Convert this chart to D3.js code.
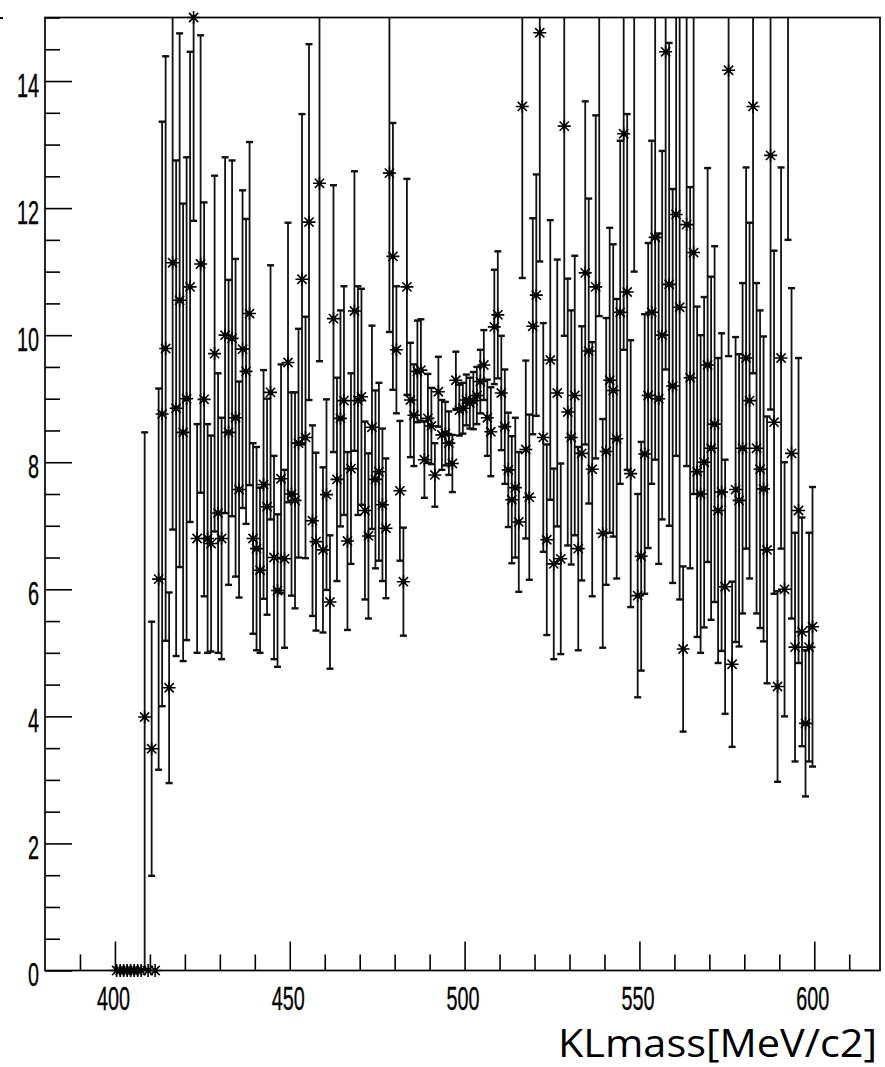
<!DOCTYPE html>
<html>
<head>
<meta charset="utf-8">
<script src="https://cdn.jsdelivr.net/npm/d3@7"></script>
<style>
  html, body { margin: 0; padding: 0; background: #fff; }
  svg { display: block; }
</style>
</head>
<body>
<script>
// Histogram binning: 200 bins of 1 MeV between 400 and 600 MeV
const binCenters = d3.range(200).map(i => 400.5 + i);

// Bin contents
const counts = [
  0, 0, 0, 0, 0, 0, 0, 0, 3.99, 0,
  3.49, 0, 6.16, 8.76, 9.79, 4.45, 11.14, 8.85, 10.55, 8.47,
  9.0, 10.76, 15.0, 6.8, 11.12, 8.99, 6.8, 6.72, 9.71, 7.2,
  6.8, 10.0, 8.47, 9.95, 8.7, 7.57, 9.78, 9.43, 10.34, 6.8,
  6.64, 6.3, 7.65, 7.3, 9.1, 6.5, 5.98, 7.74, 6.48, 9.57,
  7.5, 7.4, 8.3, 10.88, 8.39, 11.78, 7.08, 6.75, 12.39, 6.62,
  7.49, 5.8, 10.26, 7.73, 8.69, 8.97, 6.76, 7.9, 10.38, 8.97,
  9.03, 7.24, 6.84, 8.55, 7.73, 7.85, 7.33, 6.96, 12.55, 11.24,
  9.77, 7.55, 6.12, 10.76, 8.98, 8.74, 9.43, 9.45, 8.04, 8.69,
  8.57, 7.80, 9.11, 8.43, 8.45, 8.30, 7.98, 9.29, 8.82, 8.85,
  8.98, 8.93, 8.97, 9.05, 9.27, 9.53, 8.7, 8.48, 10.13, 10.32,
  9.09, 8.56, 7.88, 7.41, 7.6, 7.06, 13.6, 8.2, 7.45, 10.14,
  10.63, 14.76, 8.39, 6.78, 9.61, 6.4, 9.09, 6.48, 13.29, 8.79,
  8.39, 9.05, 6.64, 8.14, 10.98, 9.75, 7.89, 10.76, 15.8, 6.88,
  8.17, 9.29, 9.13, 8.37, 10.36, 13.17, 10.68, 7.82, 15.5, 5.9,
  6.52, 8.13, 9.05, 10.36, 11.54, 9.0, 10.0, 14.46, 10.8, 9.2,
  11.9, 10.44, 5.06, 11.74, 9.33, 11.3, 7.85, 7.5, 8.0, 9.53,
  8.22, 8.6, 7.24, 7.53, 6.04, 14.17, 4.82, 7.57, 7.4, 8.22,
  9.64, 8.97, 13.6, 8.22, 7.89, 7.58, 6.62, 12.83, 8.63, 4.47,
  9.64, 6.0, 16.0, 8.14, 5.09, 7.24, 5.33, 3.89, 5.09, 5.41
];

// Bin errors
const errors = [
  0, 0, 0, 0, 0, 0, 0, 0, 4.48, 0,
  2.0, 0, 3.0, 4.6, 4.6, 1.5, 4.2, 3.9, 4.2, 3.6,
  3.8, 3.7, 3.2, 1.8, 3.6, 3.1, 1.8, 1.7, 2.8, 2.2,
  1.9, 2.8, 2.4, 2.8, 2.5, 1.7, 2.5, 2.4, 2.7, 1.5,
  1.6, 1.3, 1.8, 1.7, 2.0, 1.6, 1.2, 1.8, 1.4, 2.2,
  1.6, 1.7, 1.8, 2.6, 1.9, 2.8, 1.5, 1.4, 2.8, 1.3,
  1.5, 1.05, 2.1, 1.6, 1.7, 1.8, 1.4, 1.5, 2.2, 1.8,
  1.7, 1.4, 1.3, 1.6, 1.4, 1.4, 1.2, 1.1, 2.5, 2.1,
  1.0, 1.1, 0.85, 1.7, 0.9, 0.8, 0.8, 0.8, 0.6, 0.7,
  0.6, 0.5, 0.55, 0.55, 0.5, 0.5, 0.45, 0.45, 0.4, 0.4,
  0.4, 0.4, 0.45, 0.45, 0.5, 0.55, 0.6, 0.7, 0.9, 1.0,
  0.9, 0.9, 0.9, 1.0, 1.1, 1.1, 2.7, 1.4, 1.3, 1.7,
  1.9, 3.6, 1.8, 1.5, 2.2, 1.5, 2.1, 1.5, 3.3, 2.1,
  2.0, 2.2, 1.6, 2.0, 2.7, 2.4, 2.0, 2.7, 5.5, 1.8,
  2.1, 2.4, 2.3, 2.2, 2.7, 3.4, 2.8, 2.1, 4.5, 1.6,
  1.8, 2.2, 2.4, 2.7, 3.5, 2.6, 2.9, 5.0, 3.8, 3.1,
  3.8, 4.6, 1.3, 3.8, 3.0, 3.8, 2.6, 2.5, 2.6, 3.1,
  2.7, 2.8, 2.4, 2.5, 2.0, 4.5, 1.3, 2.4, 2.3, 2.6,
  3.0, 2.8, 4.2, 2.6, 2.5, 2.4, 2.1, 4.0, 2.7, 1.5,
  3.0, 2.0, 4.5, 2.6, 1.8, 2.4, 1.8, 1.15, 1.8, 2.2
];

const yMajorTicks = [0, 2, 4, 6, 8, 10, 12, 14];
const xMajorTicks = [400, 450, 500, 550, 600];
const xTitle = "KLmass[MeV/c2]";

const W = 885, H = 1067;
const frame = { left: 45, right: 880, top: 17.5, bottom: 970.5 };

const x = d3.scaleLinear().domain([380, 618.8]).range([frame.left, frame.right]);
const y = d3.scaleLinear().domain([0, 15]).range([frame.bottom, frame.top]);
const yMax = y.domain()[1];

const svg = d3.select("body").append("svg")
  .attr("width", W).attr("height", H)
  .attr("viewBox", `0 0 ${W} ${H}`);

svg.append("rect").attr("width", W).attr("height", H).attr("fill", "#fff");

svg.append("defs").append("clipPath").attr("id", "plotClip")
  .append("rect")
  .attr("x", frame.left).attr("y", frame.top)
  .attr("width", frame.right - frame.left)
  .attr("height", frame.bottom - frame.top);

const labelFont = "'Liberation Sans', Arial, Helvetica, sans-serif";

// ---- axes -------------------------------------------------------------
const yMinor = d3.range(0, 15.001, 0.5).filter(v => !yMajorTicks.includes(v));
const xMinor = d3.range(390, 619, 10).filter(v => !xMajorTicks.includes(v));

function styleAxis(g) {
  g.select(".domain").remove();
  g.selectAll(".tick line").attr("stroke", "#000").attr("stroke-width", 1.6);
}
function styleLabels(sel) {
  sel.attr("fill", "#000")
    .attr("stroke", "#000").attr("stroke-width", 0.35)
    .style("font-family", labelFont)
    .style("font-size", "33px");
}

svg.append("g")
  .attr("transform", `translate(${frame.left},0)`)
  .call(d3.axisLeft(y).tickValues(yMinor).tickSize(-15).tickFormat(""))
  .call(styleAxis);

const yAxisG = svg.append("g")
  .attr("transform", `translate(${frame.left},0)`)
  .call(d3.axisLeft(y).tickValues(yMajorTicks).tickSize(-27).tickFormat(d3.format("d")))
  .call(styleAxis);
yAxisG.selectAll(".tick text")
  .attr("x", null).attr("dy", null)
  .attr("transform", "translate(-6,15) scale(0.6,1)")
  .attr("text-anchor", "end")
  .call(styleLabels);

svg.append("g")
  .attr("transform", `translate(0,${frame.bottom})`)
  .call(d3.axisBottom(x).tickValues(xMinor).tickSize(-16).tickFormat(""))
  .call(styleAxis);

const xAxisG = svg.append("g")
  .attr("transform", `translate(0,${frame.bottom})`)
  .call(d3.axisBottom(x).tickValues(xMajorTicks).tickSize(-29).tickFormat(d3.format("d")))
  .call(styleAxis);
xAxisG.selectAll(".tick text")
  .attr("y", null).attr("dy", null)
  .attr("transform", "translate(-2,39.5) scale(0.6,1)")
  .attr("text-anchor", "middle")
  .call(styleLabels);

// ---- histogram points with error bars --------------------------------
const rows = binCenters.map((c, i) => ({ c, v: counts[i], e: errors[i] }));
const withErr = rows.filter(d => d.e > 0);
const capHalf = 3.5, capH = 2.4;

const plot = svg.append("g").attr("clip-path", "url(#plotClip)");

// vertical error bars
plot.append("g")
  .attr("stroke", "#111").attr("stroke-width", 1.8)
  .selectAll("line").data(withErr).join("line")
  .attr("x1", d => x(d.c)).attr("x2", d => x(d.c))
  .attr("y1", d => y(Math.max(d.v - d.e, 0)))
  .attr("y2", d => y(Math.min(d.v + d.e, yMax + 0.2)));

// end caps at both ends of each bar (only where they fall inside the frame)
const caps = [];
withErr.forEach(d => {
  if (d.v + d.e < yMax) caps.push({ c: d.c, at: d.v + d.e });
  if (d.v - d.e > 0) caps.push({ c: d.c, at: d.v - d.e });
});
plot.append("g").attr("fill", "#111")
  .selectAll("rect").data(caps).join("rect")
  .attr("x", d => x(d.c) - capHalf)
  .attr("y", d => y(d.at) - capH / 2)
  .attr("width", 2 * capHalf)
  .attr("height", capH);

// star markers
const starPath = "M-6.5,0H6.5M0,-6.5V6.5M-4.6,-4.6L4.6,4.6M-4.6,4.6L4.6,-4.6";
const shown = rows.filter(d => d.v <= yMax);
const markers = svg.append("g");
markers.selectAll("path").data(shown).join("path")
  .attr("d", starPath)
  .attr("transform", d => `translate(${x(d.c)},${y(d.v)})`)
  .attr("stroke", "#000").attr("stroke-width", 1.6).attr("fill", "none");
markers.selectAll("circle").data(shown).join("circle")
  .attr("cx", d => x(d.c)).attr("cy", d => y(d.v))
  .attr("r", 2.3).attr("fill", "#000");

// ---- frame --------------------------------------------------------------
svg.append("rect")
  .attr("x", frame.left).attr("y", frame.top)
  .attr("width", frame.right - frame.left)
  .attr("height", frame.bottom - frame.top)
  .attr("fill", "none").attr("stroke", "#000").attr("stroke-width", 1.7);

// short stroke at the top-left corner
svg.append("line")
  .attr("x1", 0).attr("x2", 3).attr("y1", 18).attr("y2", 18)
  .attr("stroke", "#000").attr("stroke-width", 2);

// ---- axis title -------------------------------------------------------
svg.append("text")
  .attr("x", 877).attr("y", 1057)
  .attr("text-anchor", "end")
  .attr("textLength", 319).attr("lengthAdjust", "spacingAndGlyphs")
  .attr("fill", "#000")
  .style("font-family", "'Open Sans', 'Noto Sans', sans-serif")
  .style("font-size", "38px")
  .text(xTitle);
</script>
</body>
</html>
